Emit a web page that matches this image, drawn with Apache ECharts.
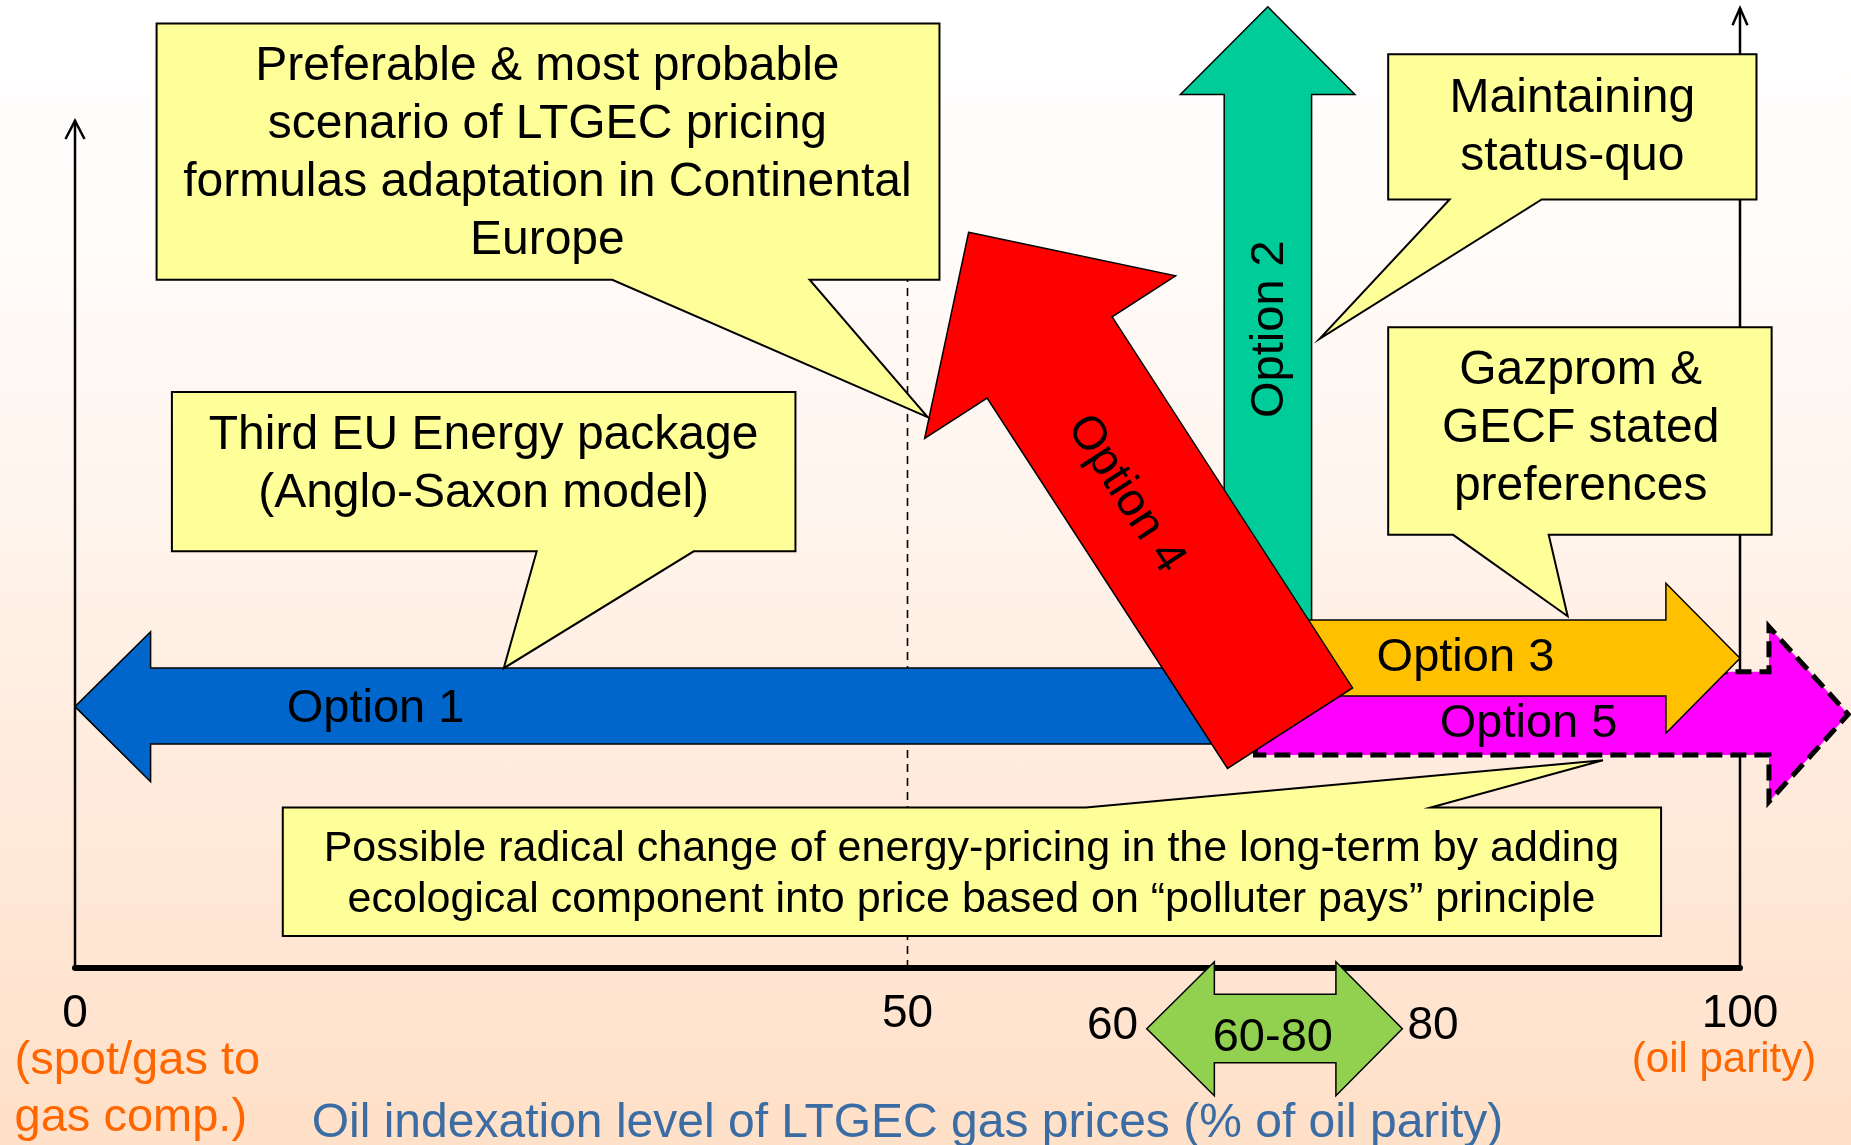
<!DOCTYPE html>
<html>
<head>
	<meta charset="UTF-8">
	<title>LTGEC pricing options</title>
	<script type="text/javascript" src="https://cdn.jsdelivr.net/npm/echarts@6/dist/echarts.min.js"></script>
	<style>
		html, body { margin: 0; padding: 0; }
		#chartArea {
			width: 1851px; height: 1145px;
			background: linear-gradient(to bottom, #ffffff 0%, #fffcfa 20%, #fff4ec 45%, #ffeadb 70%, #ffe0c8 100%);
		}
	</style>
</head>
<body>
	<div id="chartArea"></div>
<script type="text/javascript">
	// x = oil indexation level (% of oil parity), y = free vertical units (0..100)
	var option1 = [[0, 27.0], [4.54, 34.74], [4.54, 31.0], [68.5, 31.0], [68.5, 23.14], [4.54, 23.14], [4.54, 19.25]];
	var option2 = [[69.02, 35.5], [69.02, 90.25], [66.39, 90.25], [71.64, 99.3], [76.87, 90.25], [74.27, 90.25], [74.27, 35.5]];
	var option3 = [[69, 35.95], [95.55, 35.95], [95.55, 39.74], [100, 32.0], [95.55, 24.25], [95.55, 28.1], [69, 28.1]];
	var option4 = [[53.67, 76.0], [66.1, 71.5], [62.29, 67.27], [76.73, 28.93], [69.22, 20.62], [54.78, 58.88], [51.03, 54.72]];
	var option5 = [[70.9, 30.6], [101.74, 30.6], [101.74, 35.26], [106.5, 26.2], [101.74, 17.18], [101.74, 22.0], [70.9, 22.0]];
	var range6080 = [[64.37, -6.27], [68.43, 0.65], [68.43, -2.72], [75.73, -2.72], [75.73, 0.65], [79.72, -6.27],
		[75.73, -13.19], [75.73, -9.78], [68.43, -9.78], [68.43, -13.19]];

	var calloutA = [[4.9, 97.56], [51.92, 97.56], [51.92, 71.1], [44.12, 71.1], [51.21, 56.9], [32.27, 71.1], [4.9, 71.1]];
	var calloutB = [[78.87, 94.4], [100.99, 94.4], [100.99, 79.4], [88.09, 79.4], [74.75, 65.0], [82.56, 79.4], [78.87, 79.4]];
	var calloutC = [[78.87, 66.2], [101.9, 66.2], [101.9, 44.75], [88.51, 44.75], [89.65, 36.34], [82.77, 44.75], [78.87, 44.75]];
	var calloutD = [[5.82, 59.5], [43.27, 59.5], [43.27, 43.05], [37.16, 43.05], [25.75, 30.97], [27.73, 43.05], [5.82, 43.05]];
	var calloutE = [[12.48, 16.58], [60.71, 16.58], [91.77, 21.47], [81.42, 16.58], [95.26, 16.58], [95.26, 3.3], [12.48, 3.3]];

	var leftAxis = [[0, 0], [0, 87.53]];
	var leftAxisHead = [[-0.57, 85.64], [0, 87.53], [0.57, 85.64]];
	var rightAxis = [[100, 0], [100, 99.17]];
	var rightAxisHead = [[99.55, 97.4], [100, 99.17], [100.45, 97.4]];
	var midLine = [[50, 0], [50, 71.07]];

	var optionNames = ['Option 1', 'Option 2', 'Option 3', 'Option 4', 'Option 5', '60-80'];
	var optionNameAt = [[18.05, 27.19], [71.56, 66.0], [83.51, 32.4], [63.3, 49.2], [87.3, 25.6], [71.94, -6.82]];

	var calloutTexts = [
		'Preferable & most probable\nscenario of LTGEC pricing\nformulas adaptation in Continental\nEurope',
		'Maintaining\nstatus-quo',
		'Gazprom &\nGECF stated\npreferences',
		'Third EU Energy package\n(Anglo-Saxon model)',
		'Possible radical change of energy-pricing in the long-term by adding\necological component into price based on \u201cpolluter pays\u201d principle'
	];
	var calloutTextAt = [[28.37, 84.57], [89.93, 87.2], [90.43, 56.1], [24.54, 52.44], [53.84, 10.07]];

	var noteTexts = ['60', '80', '(spot/gas to\ngas comp.)', '(oil parity)'];
	var noteAt = [[62.31, -5.63], [81.56, -5.63], [-3.63, -12.1], [99.04, -9.12]];

	var FONT = "'Liberation Sans', Arial, sans-serif";
	var TEXT_DROP = 4; // canvas 'middle' sits a bit high compared to the slide text
	var myChart = echarts.init(document.getElementById('chartArea'));

	function shape(points, style, z) {
		return {
			type: 'custom', coordinateSystem: 'cartesian2d', clip: false, silent: true, z: z,
			data: [points[0]],
			renderItem: function(params, api) {
				return {
					type: 'polygon',
					shape: { points: points.map(function(p) { return api.coord(p); }) },
					style: style
				};
			}
		};
	}

	function line(points, style, z) {
		return {
			type: 'custom', coordinateSystem: 'cartesian2d', clip: false, silent: true, z: z,
			data: [points[0]],
			renderItem: function(params, api) {
				return {
					type: 'polyline',
					shape: { points: points.map(function(p) { return api.coord(p); }) },
					style: style
				};
			}
		};
	}

	// texts: list of strings, at: anchors, st(i): text style per item
	function texts(list, at, st, z) {
		return {
			type: 'custom', coordinateSystem: 'cartesian2d', clip: false, silent: true, z: z,
			data: at,
			renderItem: function(params, api) {
				var i = params.dataIndex;
				var p = api.coord(at[i]);
				var s = st(i);
				var r = (s.rot || 0) * Math.PI / 180;
				return {
					type: 'text',
					x: p[0] + TEXT_DROP * Math.sin(r),
					y: p[1] + TEXT_DROP * Math.cos(r),
					rotation: r,
					style: {
						text: list[i],
						fontFamily: FONT,
						fontSize: s.size || 48,
						lineHeight: s.lh || 58,
						fill: s.color || '#000',
						align: s.align || 'center',
						verticalAlign: 'middle'
					}
				};
			}
		};
	}

	function fillOf(c) { return { fill: c, stroke: '#000', lineWidth: 1.5 }; }
	var callStyle = { fill: '#ffff99', stroke: '#000', lineWidth: 2 };

	var option = {
		animation: false,
		backgroundColor: 'transparent',
		grid: { left: 75, right: 111, top: 0, bottom: 177, containLabel: false, outerBoundsMode: 'none' },
		xAxis: {
			type: 'value', min: 0, max: 100, interval: 50,
			splitLine: { show: false },
			axisTick: { show: false },
			axisLine: { lineStyle: { color: '#000', width: 6 } },
			axisLabel: {
				fontFamily: FONT, fontSize: 46, color: '#000', margin: 46,
				verticalAlign: 'middle', showMinLabel: true, showMaxLabel: true
			},
			name: 'Oil indexation level of LTGEC gas prices (% of oil parity)',
			nameLocation: 'middle', nameGap: 156,
			nameTextStyle: { fontFamily: FONT, fontSize: 48, color: '#3b6ca3', verticalAlign: 'middle' }
		},
		yAxis: { type: 'value', min: 0, max: 100, show: false },
		series: [
			line(midLine, { stroke: '#000', lineWidth: 1.6, lineDash: [8, 6], fill: null }, 1),
			line(leftAxis, { stroke: '#000', lineWidth: 2.5, fill: null }, 2),
			line(leftAxisHead, { stroke: '#000', lineWidth: 2.5, fill: null }, 2),
			line(rightAxis, { stroke: '#000', lineWidth: 2.5, fill: null }, 2),
			line(rightAxisHead, { stroke: '#000', lineWidth: 2.5, fill: null }, 2),
			shape(option1, fillOf('#0066cc'), 3),
			shape(option2, fillOf('#00cc99'), 4),
			shape(option5, { fill: '#ff00ff', stroke: '#000', lineWidth: 5, lineDash: [16, 8] }, 5),
			shape(option3, fillOf('#ffc000'), 6),
			shape(option4, fillOf('#ff0000'), 7),
			shape(calloutA, callStyle, 8),
			shape(calloutB, callStyle, 8),
			shape(calloutC, callStyle, 8),
			shape(calloutD, callStyle, 8),
			shape(calloutE, callStyle, 8),
			shape(range6080, fillOf('#92d050'), 9),
			texts(optionNames, optionNameAt, function(i) {
				return { rot: [0, 90, 0, -57.06, 0, 0][i], size: 47 };
			}, 10),
			texts(calloutTexts, calloutTextAt, function(i) {
				return i === 4 ? { size: 43, lh: 51 } : { size: 48, lh: 58 };
			}, 10),
			texts(noteTexts, noteAt, function(i) {
				if (i === 2) return { color: '#ff6600', align: 'left', lh: 57, size: 47 };
				if (i === 3) return { color: '#ff6600', size: 42 };
				return { size: 46 };
			}, 10)
		]
	};
	myChart.setOption(option);
</script>
</body>
</html>
